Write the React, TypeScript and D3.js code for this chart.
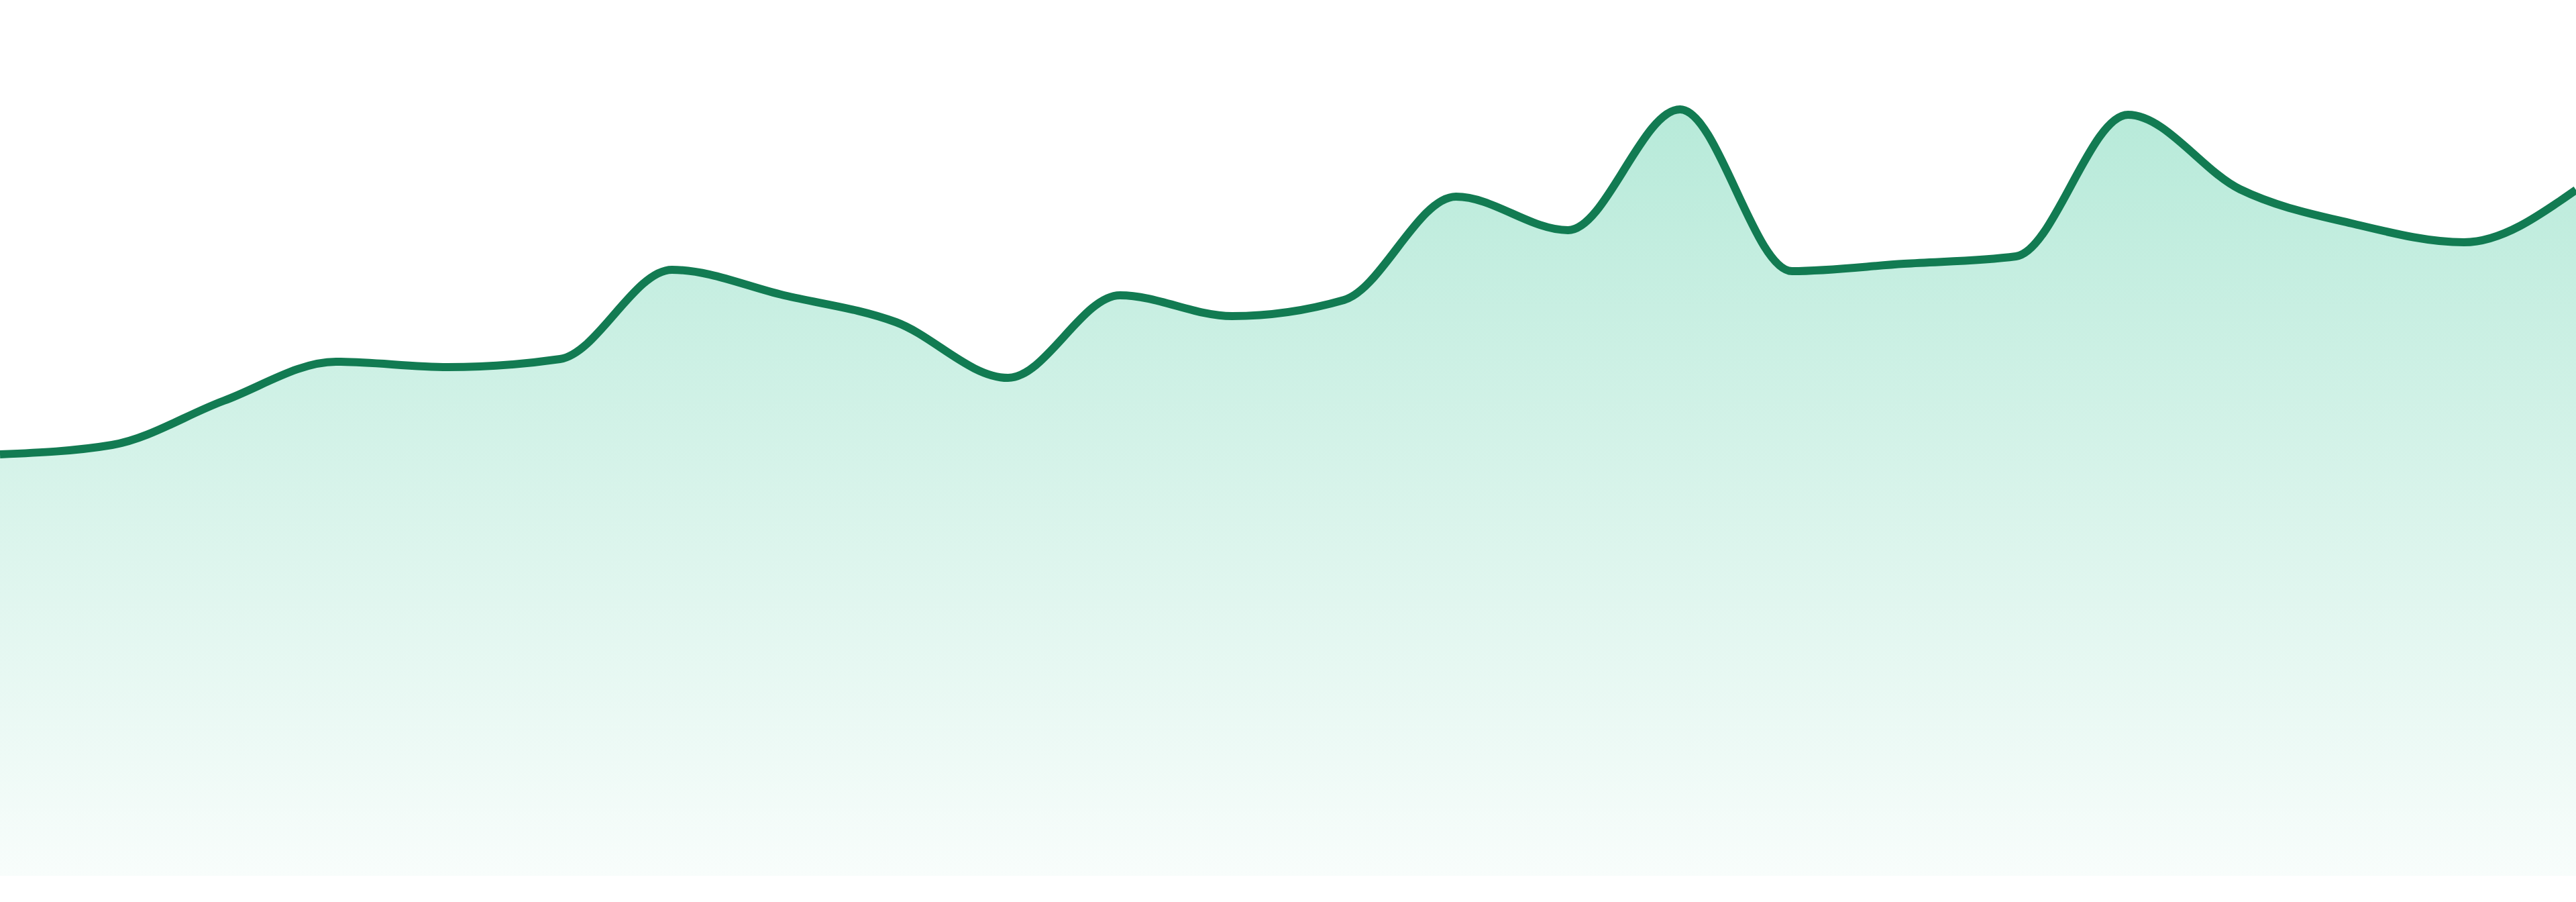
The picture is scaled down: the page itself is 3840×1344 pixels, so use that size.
import * as d3 from "d3";

// one value per period
const periods = d3.range(24);
const values = [
  62.8, 64.2, 70.8, 76.6, 75.8, 77.0, 90.3, 86.5, 82.5, 74.2, 86.5, 83.4,
  85.8, 101.2, 96.2, 114.2, 90.1, 91.2, 92.3, 113.4, 102.3, 97.2, 94.4, 102.2,
];
const yDomain: [number, number] = [0, 120];

export default function App() {
  const width = 3840;
  const height = 1344;
  const bottom = 1305;

  const xScale = d3.scaleLinear()
    .domain([0, periods.length - 1])
    .range([0, width]);

  const yScale = d3.scaleLinear()
    .domain(yDomain)
    .range([bottom, 105]);

  const data = periods.map((p, i) => ({ p, v: values[i] }));

  const area = d3.area<{ p: number; v: number }>()
    .x(d => xScale(d.p))
    .y0(yScale(0))
    .y1(d => yScale(d.v))
    .curve(d3.curveMonotoneX);

  const line = d3.line<{ p: number; v: number }>()
    .x(d => xScale(d.p))
    .y(d => yScale(d.v))
    .curve(d3.curveMonotoneX);

  return (
    <svg
      width={width}
      height={height}
      style={{ position: "absolute", left: 0, top: 0, display: "block", background: "#fff" }}
    >
      <defs>
        <linearGradient id="fillGrad" x1="0" y1="0" x2="0" y2="1">
          <stop offset="0%" stopColor="#10b981" stopOpacity={0.3} />
          <stop offset="100%" stopColor="#10b981" stopOpacity={0.03} />
        </linearGradient>
      </defs>

      {/* Area */}
      <path d={area(data) ?? ""} fill="url(#fillGrad)" />

      {/* Line */}
      <path
        d={line(data) ?? ""}
        fill="none"
        stroke="#127b52"
        strokeWidth={12}
        strokeLinejoin="round"
      />
    </svg>
  );
}
